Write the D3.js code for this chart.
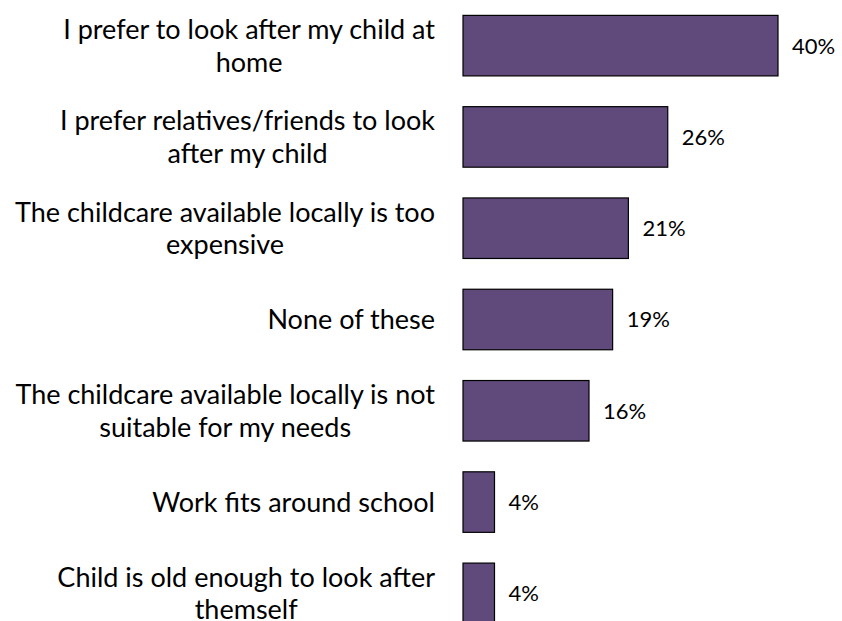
<!DOCTYPE html>
<html>
<head>
<meta charset="utf-8">
<script src="https://cdn.jsdelivr.net/npm/d3@7/dist/d3.min.js"></script>
<style>
  html, body { margin: 0; padding: 0; background: #ffffff; }
  svg { display: block; }
  text { font-family: Lato, "Open Sans", sans-serif; fill: #000; }
</style>
</head>
<body>
<svg id="chart" width="842" height="621"></svg>
<script>
// Reasons for not using formal childcare (share of respondents)
const categories = [
  ["I prefer to look after my child at", "home"],
  ["I prefer relatives/friends to look", "after my child"],
  ["The childcare available locally is too", "expensive"],
  ["None of these"],
  ["The childcare available locally is not", "suitable for my needs"],
  ["Work fits around school"],
  ["Child is old enough to look after", "themself"]
];
const values = [40, 26, 21, 19, 16, 4, 4];
const valueLabels = ["40%", "26%", "21%", "19%", "16%", "4%", "4%"];

const svg = d3.select("#chart");
const ids = categories.map((_, i) => i);

const x = d3.scaleLinear().domain([0, 40]).range([463, 778]);
const y = d3.scaleBand().domain(ids).range([0, 639]).paddingInner(0.337).paddingOuter(0.1685);

// Bars
svg.append("g").selectAll("rect")
  .data(ids)
  .join("rect")
  .attr("x", x(0))
  .attr("y", i => y(i))
  .attr("width", i => x(values[i]) - x(0))
  .attr("height", y.bandwidth())
  .attr("fill", "#604a7b")
  .attr("stroke", "#000")
  .attr("stroke-width", 1.2);

// Value labels
svg.append("g").selectAll("text")
  .data(ids)
  .join("text")
  .attr("x", i => x(values[i]) + 14)
  .attr("y", i => y(i) + y.bandwidth() / 2)
  .attr("dy", "0.36em")
  .attr("font-size", 22)
  .text(i => valueLabels[i]);

// Category labels: block right-aligned to the axis gap, lines centred within the block
const labelRight = 435;
const lineHeight = 32.5;
const fontSize = 27;
const lg = svg.append("g");
ids.forEach(i => {
  const lines = categories[i];
  const g = lg.append("g");
  const texts = lines.map(l => g.append("text")
    .attr("font-size", fontSize)
    .attr("text-anchor", "middle")
    .text(l));
  const widths = texts.map(t => t.node().getComputedTextLength());
  const maxW = d3.max(widths);
  const cx = labelRight - maxW / 2;
  const cy = y(i) + y.bandwidth() / 2;
  const top = cy - (lines.length - 1) * lineHeight / 2;
  texts.forEach((t, k) => t.attr("x", cx).attr("y", top + k * lineHeight).attr("dy", "0.36em"));
});
</script>
</body>
</html>
